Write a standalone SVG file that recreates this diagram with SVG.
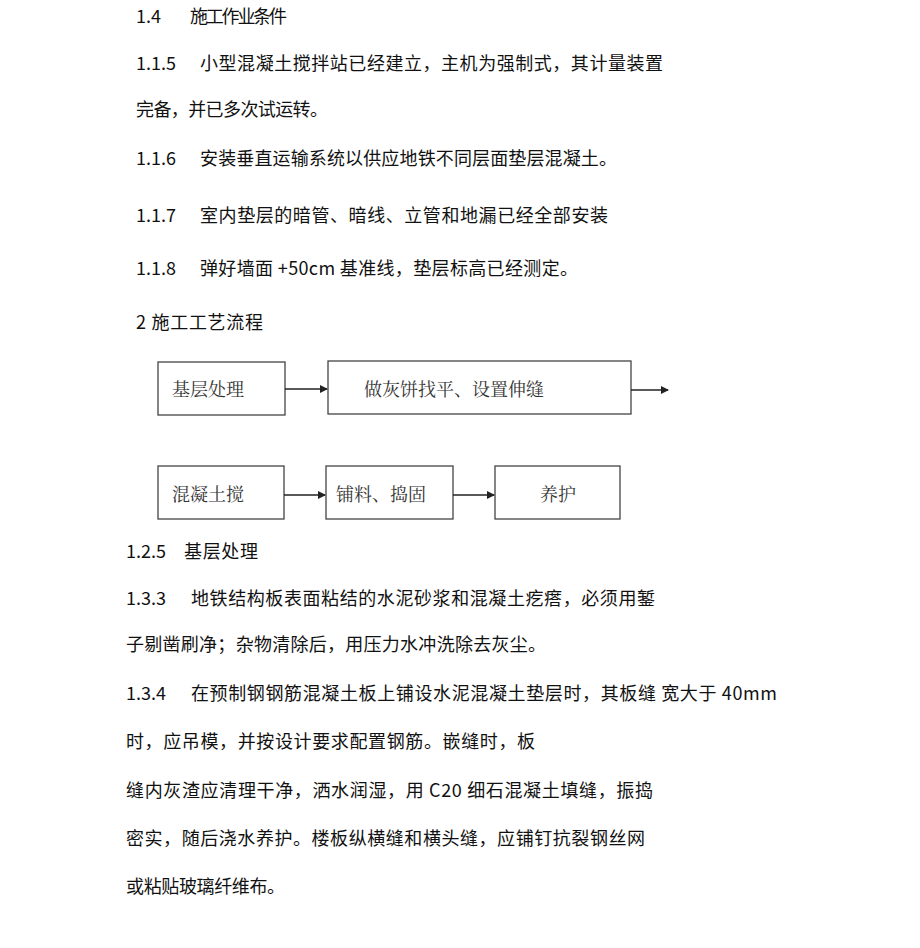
<svg xmlns="http://www.w3.org/2000/svg" width="920" height="948" viewBox="0 0 920 948">
<style>
.t{font-family:"Noto Sans CJK SC","Noto Sans",sans-serif;font-size:18px;fill:#111}
.b{font-family:"Noto Serif CJK SC","Noto Sans CJK SC",serif;font-size:18px;fill:#333}
.box{fill:#fff;stroke:#444;stroke-width:1.3}
.c{stroke:#222;stroke-width:1.5;fill:none;marker-end:url(#a)}
</style>
<defs><marker id="a" markerWidth="8" markerHeight="8" refX="7" refY="4" orient="auto" markerUnits="userSpaceOnUse"><path d="M0,0L8,4L0,8z" fill="#222"/></marker></defs>
<rect width="920" height="948" fill="#fff"/>
<text class="t" x="136" y="23">1.4</text><text class="t" x="190" y="23" textLength="97">施工作业条件</text>
<text class="t" x="136" y="70">1.1.5</text><text class="t" x="200" y="70" textLength="463">小型混凝土搅拌站已经建立，主机为强制式，其计量装置</text>
<text class="t" x="136" y="116" textLength="192">完备，并已多次试运转。</text>
<text class="t" x="136" y="165">1.1.6</text><text class="t" x="200" y="165" textLength="417">安装垂直运输系统以供应地铁不同层面垫层混凝土。</text>
<text class="t" x="136" y="222">1.1.7</text><text class="t" x="200" y="222" textLength="408">室内垫层的暗管、暗线、立管和地漏已经全部安装</text>
<text class="t" x="136" y="275">1.1.8</text><text class="t" x="200" y="275" textLength="378">弹好墙面 +50cm 基准线，垫层标高已经测定。</text>
<text class="t" x="136" y="329" textLength="127">2 施工工艺流程</text>
<g id="n1"><rect class="box" x="158" y="362" width="127" height="53"/><text class="b" x="172" y="396">基层处理</text></g>
<g id="n2"><rect class="box" x="328" y="361" width="303" height="53"/><text class="b" x="364" y="396">做灰饼找平、设置伸缝</text></g>
<g id="n3"><rect class="box" x="158" y="466" width="126" height="53"/><text class="b" x="172" y="501">混凝土搅</text></g>
<g id="n4"><rect class="box" x="326" y="466" width="127" height="53"/><text class="b" x="336" y="501">铺料、捣固</text></g>
<g id="n5"><rect class="box" x="495" y="466" width="125" height="53"/><text class="b" x="540" y="501">养护</text></g>
<g id="connectors">
<path class="c" d="M285,389H327"/>
<path class="c" d="M631,390H668"/>
<path class="c" d="M284,495H325"/>
<path class="c" d="M453,495H494"/>
</g>
<text class="t" x="126" y="558">1.2.5</text><text class="t" x="184" y="558" textLength="74">基层处理</text>
<text class="t" x="126" y="605">1.3.3</text><text class="t" x="191" y="605" textLength="464">地铁结构板表面粘结的水泥砂浆和混凝土疙瘩，必须用錾</text>
<text class="t" x="126" y="651" textLength="420">子剔凿刷净；杂物清除后，用压力水冲洗除去灰尘。</text>
<text class="t" x="126" y="700">1.3.4</text><text class="t" x="191" y="700" textLength="586">在预制钢钢筋混凝土板上铺设水泥混凝土垫层时，其板缝 宽大于 40mm</text>
<text class="t" x="126" y="748" textLength="409">时，应吊模，并按设计要求配置钢筋。嵌缝时，板</text>
<text class="t" x="126" y="797" textLength="527">缝内灰渣应清理干净，洒水润湿，用 C20 细石混凝土填缝，振捣</text>
<text class="t" x="126" y="845" textLength="519">密实，随后浇水养护。楼板纵横缝和横头缝，应铺钉抗裂钢丝网</text>
<text class="t" x="126" y="893" textLength="159">或粘贴玻璃纤维布。</text>
</svg>
